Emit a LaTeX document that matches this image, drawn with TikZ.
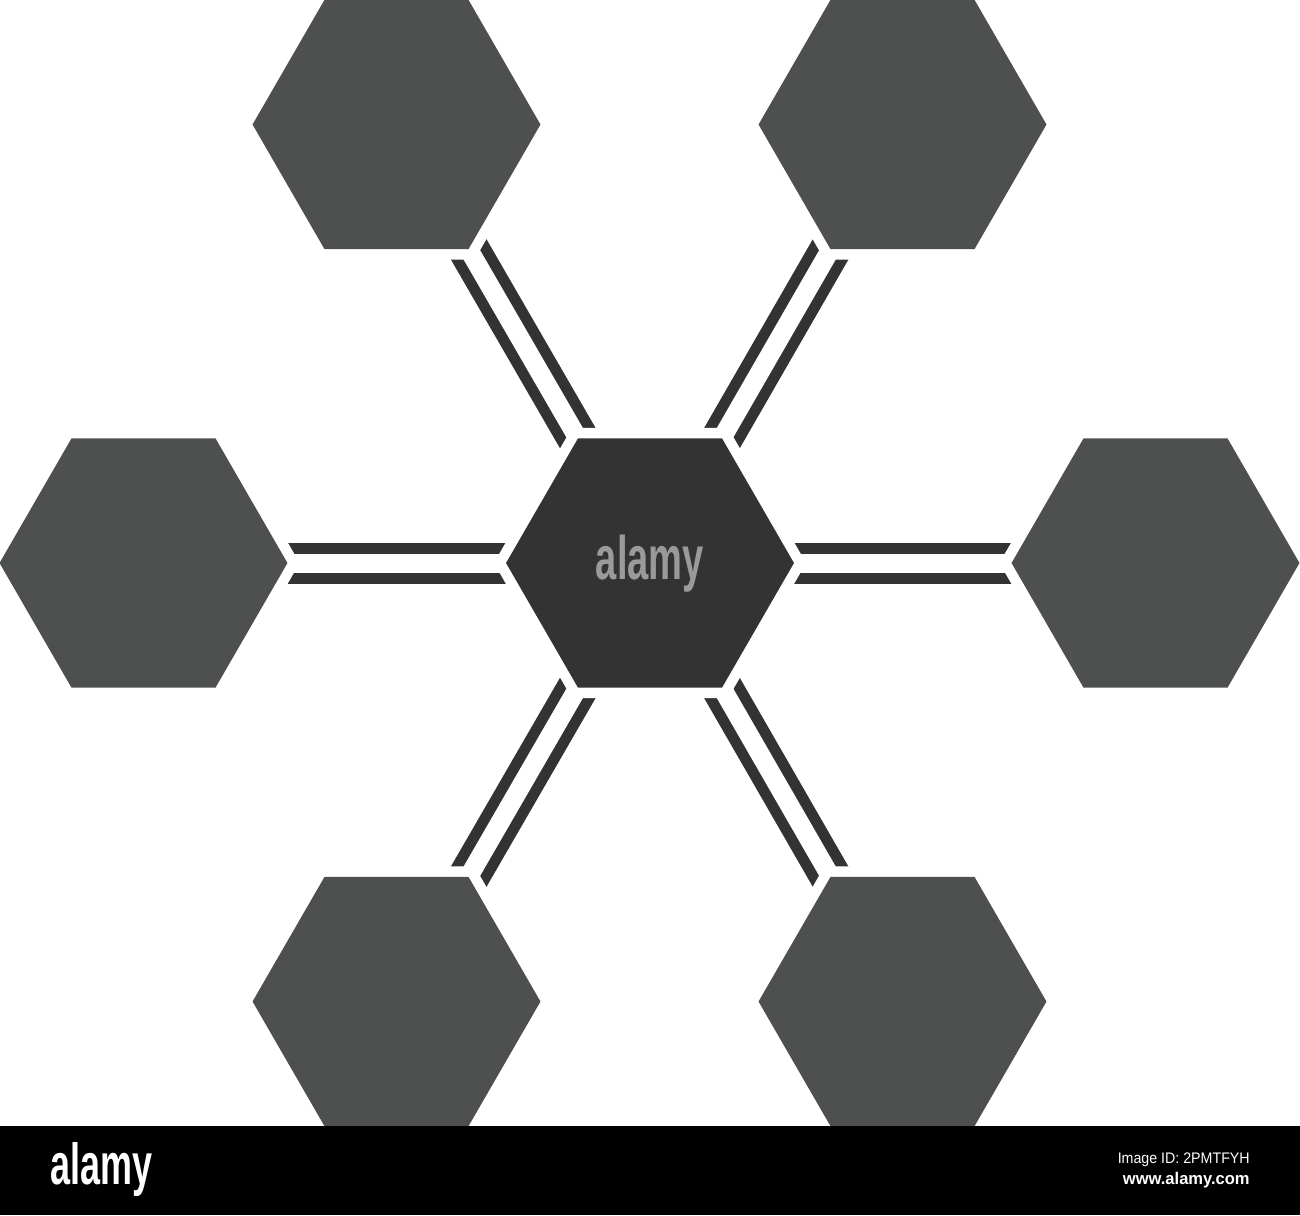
\documentclass[tikz,border=0pt]{standalone}
\usepackage{fontspec}
\setmainfont{Liberation Sans}
\usetikzlibrary{shapes.geometric}
\definecolor{outerhex}{HTML}{4E504F}
\definecolor{centerhex}{HTML}{333333}
\definecolor{barcol}{HTML}{333333}
\definecolor{wmark}{HTML}{9A9A9A}
\tikzset{
  hexa/.style={regular polygon, regular polygon sides=6, minimum size=5.76cm,
    inner sep=0pt, outer sep=0pt,
    preaction={draw=white, line width=0.42cm, line join=miter}},
  outerhexa/.style={hexa, fill=outerhex},
  centerhexa/.style={hexa, fill=centerhex},
  bond/.style={draw=barcol, line width=0.22cm, double=white, double distance=0.38cm, line cap=butt}
}
\begin{document}
\begin{tikzpicture}[x=0.02cm, y=-0.02cm]
\useasboundingbox (0,0) rectangle (1300,1215);
% positions
\coordinate (pc) at (650,563);
\coordinate (pl) at (143.5,563);
\coordinate (pr) at (1155.5,563);
\coordinate (ptl) at (396.5,124.5);
\coordinate (ptr) at (902.5,124.5);
\coordinate (pbl) at (396.5,1001.5);
\coordinate (pbr) at (902.5,1001.5);
% bonds
\draw[bond] (pc) -- (pl);
\draw[bond] (pc) -- (pr);
\draw[bond] (pc) -- (ptl);
\draw[bond] (pc) -- (ptr);
\draw[bond] (pc) -- (pbl);
\draw[bond] (pc) -- (pbr);
% hexagons
\node[centerhexa] (c) at (pc) {};
\node[outerhexa] (l) at (pl) {};
\node[outerhexa] (r) at (pr) {};
\node[outerhexa] (tl) at (ptl) {};
\node[outerhexa] (tr) at (ptr) {};
\node[outerhexa] (bl) at (pbl) {};
\node[outerhexa] (br) at (pbr) {};
% watermark
\node[anchor=base, text=wmark, font=\bfseries\fontsize{35}{35}\selectfont, xscale=0.62, inner sep=0pt] (wm) at (650,579) {alamy};
% bottom bar
\fill[black] (0,1126) rectangle (1300,1215);
\node[anchor=base west, text=white, font=\bfseries\fontsize{33}{33}\selectfont, xscale=0.62, inner sep=0pt] (logo) at (50,1184) {alamy};
\node[anchor=base east, text=white, font=\fontsize{8.7}{9}\selectfont, xscale=0.93, inner sep=0pt] (imgid) at (1250,1163) {Image ID: 2PMTFYH};
\node[anchor=base east, text=white, font=\bfseries\fontsize{9.6}{10}\selectfont, xscale=0.98, inner sep=0pt] (www) at (1250,1184) {www.alamy.com};
\end{tikzpicture}
\end{document}
